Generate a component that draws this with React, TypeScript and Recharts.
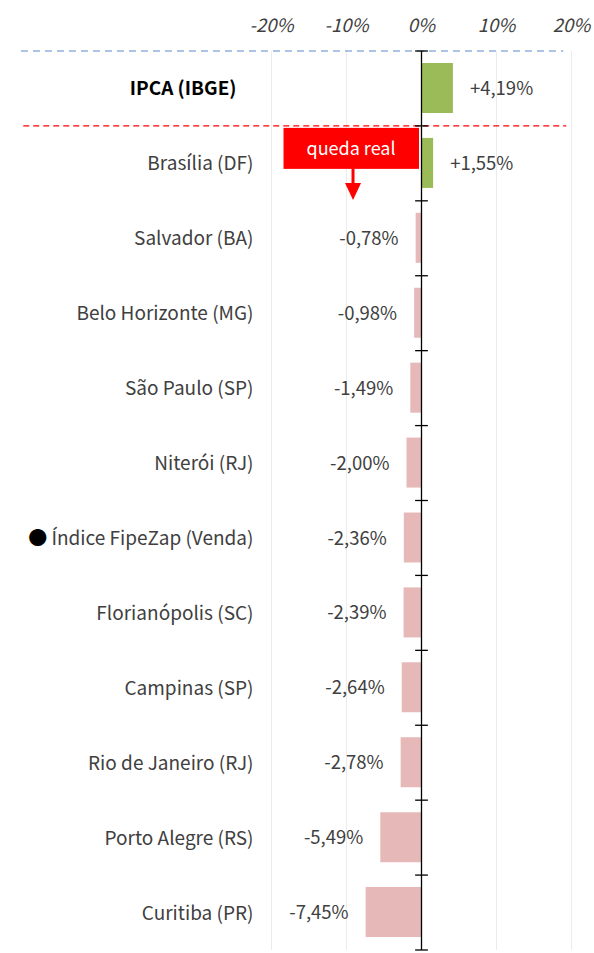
import { BarChart, Bar, XAxis, YAxis, CartesianGrid, ReferenceLine, ReferenceDot, LabelList, Cell } from "recharts";

const CITIES = [
  "IPCA (IBGE)",
  "Brasília (DF)",
  "Salvador (BA)",
  "Belo Horizonte (MG)",
  "São Paulo (SP)",
  "Niterói (RJ)",
  "Índice FipeZap (Venda)",
  "Florianópolis (SC)",
  "Campinas (SP)",
  "Rio de Janeiro (RJ)",
  "Porto Alegre (RS)",
  "Curitiba (PR)",
];

const CHANGE_PCT = [4.19, 1.55, -0.78, -0.98, -1.49, -2.0, -2.36, -2.39, -2.64, -2.78, -5.49, -7.45];

const X_TICKS = [-20, -10, 0, 10, 20];

const BENCHMARK = "IPCA (IBGE)";
const FIRST_CITY = "Brasília (DF)";
const HIGHLIGHT = "Índice FipeZap (Venda)";
const LAST_CITY = CITIES[CITIES.length - 1];

const FONT = '"Noto Sans CJK JP", "Noto Sans", sans-serif';
const GREEN = "#9bbb59";
const PINK = "#e6b8b7";
const RED = "#ff0000";
const TEXT = "#404040";

const data = CITIES.map((name, i) => ({ name, value: CHANGE_PCT[i] }));

function fmt(v: number) {
  const s = Math.abs(v).toFixed(2).replace(".", ",");
  return (v >= 0 ? "+" : "-") + s + "%";
}

function CategoryTick(props: any) {
  const { x, y, payload } = props;
  const name = payload.value as string;
  const bold = name === BENCHMARK;
  return (
    <text
      x={bold ? x - 17 : x}
      y={y}
      dy={7}
      textAnchor="end"
      fontSize={19}
      fontFamily={FONT}
      fontWeight={bold ? 700 : 400}
      fill={bold ? "#000" : TEXT}
    >
      {name === HIGHLIGHT && <tspan fill="#000">● </tspan>}
      {name}
    </text>
  );
}

function PctTick(props: any) {
  const { x, y, payload } = props;
  return (
    <text x={x} y={y} textAnchor="middle" fontSize={18.5} fontStyle="italic" fontFamily={FONT} fill={TEXT}>
      {payload.value}%
    </text>
  );
}

function ValueLabel(props: any) {
  const { x, y, width, height, value } = props;
  const left = Math.min(x, x + width);
  const right = Math.max(x, x + width);
  const pos = value >= 0;
  return (
    <text
      x={pos ? right + 17 : left - 17}
      y={y + height / 2}
      dy={7}
      textAnchor={pos ? "start" : "end"}
      fontSize={18.5}
      fontFamily={FONT}
      fill={TEXT}
    >
      {fmt(value)}
    </text>
  );
}

// "queda real" callout, anchored on the arrow at the Brasília row centre
function Callout(props: any) {
  const { cx, cy } = props;
  return (
    <g>
      <rect x={cx - 69.5} y={cy - 35.5} width={135.5} height={41} fill={RED} />
      <text x={cx - 2} y={cy - 15} dy={6.5} textAnchor="middle" fontSize={18} fontFamily={FONT} fill="#fff">
        queda real
      </text>
      <line x1={cx} y1={cy + 5} x2={cx} y2={cy + 21} stroke={RED} strokeWidth={3} />
      <polygon points={`${cx - 8},${cy + 19.5} ${cx + 8},${cy + 19.5} ${cx},${cy + 36.5}`} fill={RED} />
    </g>
  );
}

const axisTick = (name: string, position: "start" | "end") => (
  <ReferenceLine
    key={name + position}
    segment={[{ x: -0.85, y: name }, { x: 0.85, y: name }]}
    position={position}
    stroke="#000"
    strokeWidth={1.3}
    ifOverflow="visible"
  />
);

export default function App() {
  return (
    <div style={{ position: "absolute", left: 0, top: 0, background: "#fff", fontFamily: FONT }}>
      <BarChart
        width={594}
        height={953}
        data={data}
        layout="vertical"
        margin={{ top: 0, right: 22.5, bottom: 3, left: 0 }}
      >
        <CartesianGrid horizontal={false} stroke="#ececec" />
        <XAxis
          type="number"
          domain={[-20, 20]}
          ticks={X_TICKS}
          orientation="top"
          height={51}
          axisLine={false}
          tickLine={false}
          tickSize={0}
          tickMargin={19}
          tick={<PctTick />}
        />
        <YAxis
          type="category"
          dataKey="name"
          width={271.5}
          axisLine={false}
          tickLine={false}
          tickSize={0}
          tickMargin={18}
          interval={0}
          tick={<CategoryTick />}
        />

        <Bar dataKey="value" barSize={50} isAnimationActive={false}>
          {data.map((d) => (
            <Cell key={d.name} fill={d.value >= 0 ? GREEN : PINK} />
          ))}
          <LabelList dataKey="value" content={<ValueLabel />} />
        </Bar>

        <ReferenceLine
          segment={[{ x: -53.4, y: BENCHMARK }, { x: 18.9, y: BENCHMARK }]}
          position="start"
          stroke="#5b8bc9"
          strokeWidth={1.2}
          strokeDasharray="7 5"
          ifOverflow="visible"
        />
        <ReferenceLine
          segment={[{ x: -53.1, y: FIRST_CITY }, { x: 19.3, y: FIRST_CITY }]}
          position="start"
          stroke={RED}
          strokeWidth={1.2}
          strokeDasharray="6 4"
          ifOverflow="visible"
        />

        <ReferenceLine x={0} stroke="#000" strokeWidth={1.3} />
        {CITIES.map((name) => axisTick(name, "start"))}
        {axisTick(LAST_CITY, "end")}

        <ReferenceDot x={-9.13} y={FIRST_CITY} r={1} shape={<Callout />} ifOverflow="visible" />
      </BarChart>
    </div>
  );
}
